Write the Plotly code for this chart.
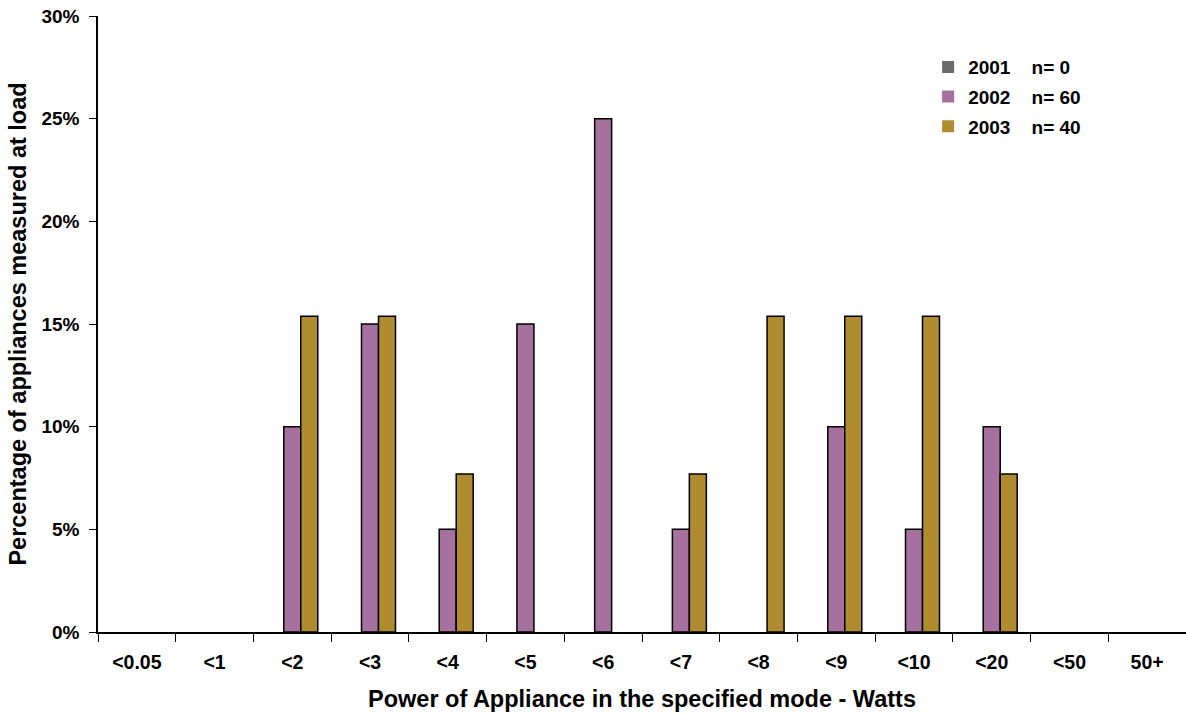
import plotly.graph_objects as go

categories = ["<0.05", "<1", "<2", "<3", "<4", "<5", "<6", "<7", "<8", "<9", "<10", "<20", "<50", "50+"]
s2001 = [0, 0, 0, 0, 0, 0, 0, 0, 0, 0, 0, 0, 0, 0]
s2002 = [0, 0, 10, 15, 5, 15, 25, 5, 0, 10, 5, 10, 0, 0]
s2003 = [0, 0, 15.38, 15.38, 7.69, 0, 0, 7.69, 15.38, 15.38, 15.38, 7.69, 0, 0]
names = ["2001&nbsp;&nbsp;&nbsp;&nbsp;n= 0", "2002&nbsp;&nbsp;&nbsp;&nbsp;n= 60", "2003&nbsp;&nbsp;&nbsp;&nbsp;n= 40"]
colors = ["#6b6b6b", "#a6709f", "#b08c31"]
y_ticks = [0, 5, 10, 15, 20, 25, 30]
y_labels = ["0%", "5%", "10%", "15%", "20%", "25%", "30%"]

FONT = "Liberation Sans, Arial, sans-serif"

fig = go.Figure()
for i, (vals, nm, col) in enumerate(zip([s2001, s2002, s2003], names, colors)):
    fig.add_trace(go.Bar(
        x=categories, y=vals, name=nm, legendgroup=f"g{i}",
        marker=dict(color=col,
                    line=dict(color="#000000", width=[0 if v == 0 else 1.5 for v in vals])),
    ))

fig.update_layout(
    width=1186, height=715,
    margin=dict(l=98, r=0, t=16, b=83),
    paper_bgcolor="white", plot_bgcolor="white",
    barmode="group", bargap=0.344, bargroupgap=0,
    font=dict(family=FONT, size=19, color="black"),
    showlegend=True,
    legend=dict(
        x=0.763, y=0.948, xanchor="left", yanchor="top",
        bgcolor="rgba(0,0,0,0)",
        font=dict(family=FONT, size=19, color="black", weight="bold"),
        traceorder="grouped", tracegroupgap=2, itemwidth=30,
    ),
    xaxis=dict(
        type="category", automargin=False,
        range=[-0.5, 13.5],
        showline=True, linecolor="#000000", linewidth=1.5,
        ticks="outside", ticklen=8, tickcolor="#000000", tickwidth=1,
        tickson="boundaries", ticklabelstandoff=12,
        showgrid=False, zeroline=False,
        tickfont=dict(family=FONT, size=19.5, color="black", weight="bold"),
        title=dict(text="Power of Appliance in the specified mode - Watts",
                   font=dict(family=FONT, size=23.5, color="black", weight="bold"),
                   standoff=18),
    ),
    yaxis=dict(
        range=[0, 30], automargin=False,
        tickvals=y_ticks, ticktext=y_labels,
        showline=True, linecolor="#000000", linewidth=1.5,
        ticks="outside", ticklen=7, tickcolor="#000000", tickwidth=1,
        ticklabelstandoff=6, ticklabeloverflow="allow",
        showgrid=False, zeroline=False,
        tickfont=dict(family=FONT, size=19, color="black", weight="bold"),
        title=dict(text="Percentage of appliances measured at load",
                   font=dict(family=FONT, size=23.5, color="black", weight="bold"),
                   standoff=8),
    ),
)

fig.write_html("out.html",
               config={"displayModeBar": False},
               post_script="document.body.style.margin='0';document.body.style.overflow='hidden';")
